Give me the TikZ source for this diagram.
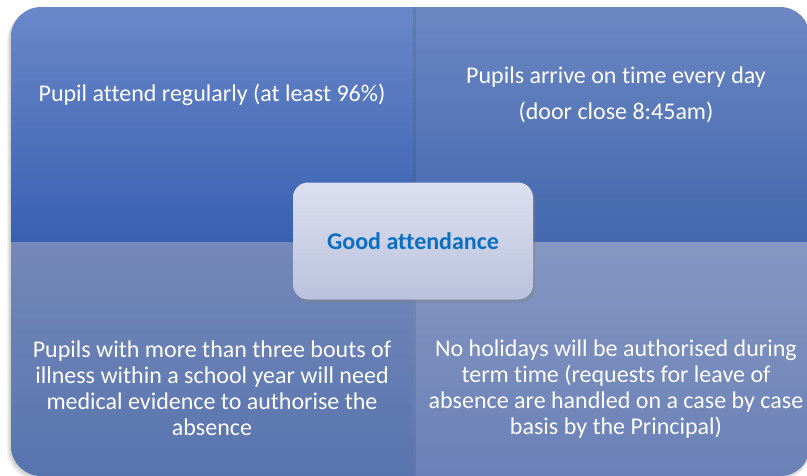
\documentclass[tikz,border=0pt]{standalone}
\usepackage{fontspec}
\setmainfont{Carlito}[Ligatures={NoCommon}]
\usepackage{tikz}
\usetikzlibrary{shadows}
\definecolor{tlTop}{HTML}{6A87C9}
\definecolor{tlBot}{HTML}{3861B2}
\definecolor{trTop}{HTML}{6C87C2}
\definecolor{trBot}{HTML}{4368AF}
\definecolor{blTop}{HTML}{7488B9}
\definecolor{blBot}{HTML}{5874AE}
\definecolor{brTop}{HTML}{8597C3}
\definecolor{brBot}{HTML}{6A80B6}
\definecolor{hubTop}{HTML}{DCE0F0}
\definecolor{hubBot}{HTML}{BAC1DC}
\definecolor{hubText}{HTML}{0B6FC1}

\begin{document}
\begin{tikzpicture}[x=1pt, y=-1pt]
	\tikzstyle{txt}=[text=white, align=center, font=\fontsize{24}{26}\selectfont]
	\tikzstyle{hub}=[rounded corners=15pt, minimum width=240pt, minimum height=117pt, top color=hubTop, bottom color=hubBot, drop shadow={opacity=.4, shadow xshift=2pt, shadow yshift=-3pt}, font=\fontsize{24}{26}\selectfont\bfseries, text=hubText]
	\useasboundingbox (0,0) rectangle (807,475);
	% soft shadow of the board
	\foreach \d in {1,...,4}
		\fill[black, opacity=.05, rounded corners=30pt] (11-\d,7+\d) rectangle (810,476+\d);
	\begin{scope}
		\clip[rounded corners=30pt] (11,7) rectangle (810,476);
		\shade[top color=tlTop, bottom color=tlBot] (11,7) rectangle (413,242);
		\shade[top color=trTop, bottom color=trBot] (413,7) rectangle (810,242);
		\shade[top color=blTop, bottom color=blBot] (11,242) rectangle (413,476);
		\shade[top color=brTop, bottom color=brBot] (413,242) rectangle (810,476);
		% seams
		\fill[black, opacity=.08] (413,7) rectangle (416,476);
	\end{scope}
	\node[txt] (tl) at (212,95) {Pupil attend regularly (at least 96\%)};
	\node[txt, font=\fontsize{24}{36}\selectfont] (tr) at (616,95) {Pupils arrive on time every day\\(door close 8:45am)};
	\node[txt] (bl) at (212,388) {Pupils with more than three bouts of\\illness within a school year will need\\medical evidence to authorise the\\absence};
	\node[txt] (br) at (616,389) {No holidays will be authorised during\\term time (requests for leave of\\absence are handled on a case by case\\basis by the Principal)};
	\node[hub] (hub) at (413,241) {Good attendance};
\end{tikzpicture}
\end{document}
